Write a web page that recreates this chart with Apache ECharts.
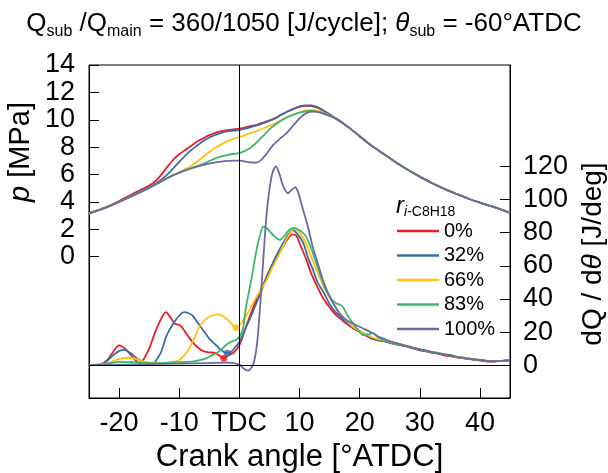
<!DOCTYPE html>
<html><head><meta charset="utf-8">
<script src="https://cdn.jsdelivr.net/npm/echarts@6/dist/echarts.min.js"></script>
<style>html,body{margin:0;padding:0;background:#fff}#c{width:608px;height:473px}</style>
</head><body><div id="c"></div>
<script>
// ---------- data ----------
const seriesNames = ['0%', '32%', '66%', '83%', '100%'];
const xTicks = [-20, -10, 0, 10, 20, 30, 40];
const pTicks = [0, 2, 4, 6, 8, 10, 12, 14];
const dqTicks = [0, 20, 40, 60, 80, 100, 120];

// pressure [crank angle, MPa]
const p0 = [[-25,3.17],[-23,3.47],[-21,3.85],[-19,4.3],[-17,4.75],[-15,5.2],[-14,5.5],[-13,5.98],[-12,6.55],[-11,7.08],[-10,7.48],[-9,7.8],[-8,8.1],[-7,8.42],[-6,8.65],[-5,8.88],[-4,9.05],[-3,9.17],[-2,9.25],[-1,9.3],[0,9.35],[1,9.45],[2,9.55],[3,9.65],[4,9.8],[5,9.95],[6,10.12],[7,10.38],[8,10.6],[9,10.8],[10,10.95],[11,11.02],[12,11.0],[13,10.88],[14,10.65],[16,10.1],[18,9.5],[20,8.8],[22,8.1],[24,7.5],[26,6.9],[28,6.35],[30,5.85],[32,5.38],[34,4.97],[36,4.6],[38,4.25],[40,3.95],[42,3.67],[45,3.2]];
const p32 = [[-25,3.17],[-23,3.46],[-21,3.82],[-19,4.24],[-17,4.66],[-15,5.08],[-14,5.32],[-13,5.62],[-12,6.0],[-11,6.45],[-10,6.93],[-9,7.38],[-8,7.78],[-7,8.13],[-6,8.45],[-5,8.7],[-4,8.9],[-3,9.05],[-2,9.15],[-1,9.2],[0,9.25],[1,9.35],[2,9.48],[3,9.6],[4,9.75],[5,9.92],[6,10.12],[7,10.37],[8,10.6],[9,10.8],[10,10.97],[11,11.05],[12,11.05],[13,10.92],[14,10.68],[16,10.12],[18,9.5],[20,8.8],[22,8.1],[24,7.5],[26,6.9],[28,6.35],[30,5.85],[32,5.38],[34,4.97],[36,4.6],[38,4.25],[40,3.95],[42,3.67],[45,3.2]];
const p66 = [[-25,3.17],[-23,3.45],[-21,3.8],[-19,4.2],[-17,4.6],[-15,5.02],[-13,5.5],[-11,5.97],[-10,6.15],[-9,6.38],[-8,6.65],[-7,6.95],[-6,7.3],[-5,7.65],[-4,7.95],[-3,8.2],[-2,8.42],[-1,8.6],[0,8.74],[1,8.9],[2,9.05],[3,9.2],[4,9.38],[5,9.55],[6,9.75],[7,9.98],[8,10.2],[9,10.38],[10,10.55],[11,10.68],[12,10.72],[13,10.65],[14,10.5],[16,10.1],[18,9.5],[20,8.8],[22,8.1],[24,7.5],[26,6.9],[28,6.35],[30,5.85],[32,5.38],[34,4.97],[36,4.6],[38,4.25],[40,3.95],[42,3.67],[45,3.2]];
const p83 = [[-25,3.17],[-23,3.45],[-21,3.8],[-19,4.2],[-17,4.6],[-15,5.02],[-13,5.5],[-11,5.95],[-9,6.32],[-8,6.47],[-7,6.62],[-6,6.78],[-5,6.98],[-4,7.18],[-3,7.32],[-2,7.42],[-1,7.5],[0,7.57],[1,7.75],[2,8.0],[3,8.4],[4,8.85],[5,9.3],[6,9.65],[7,9.95],[8,10.2],[9,10.38],[10,10.52],[11,10.62],[12,10.65],[13,10.58],[14,10.45],[16,10.1],[18,9.5],[20,8.8],[22,8.1],[24,7.5],[26,6.9],[28,6.35],[30,5.85],[32,5.38],[34,4.97],[36,4.6],[38,4.25],[40,3.95],[42,3.67],[45,3.2]];
const p100 = [[-25,3.17],[-23,3.45],[-21,3.8],[-19,4.2],[-17,4.6],[-15,5.02],[-13,5.5],[-11,5.95],[-9,6.3],[-7,6.58],[-5,6.8],[-3,6.95],[-1,7.02],[0,7.02],[1,6.95],[2,6.88],[2.8,6.87],[3.6,7.05],[4.4,7.45],[5.5,8.1],[6.7,8.6],[7.8,9.0],[9,9.6],[10,10.1],[11,10.45],[12,10.6],[13,10.58],[14,10.45],[16,10.1],[18,9.5],[20,8.8],[22,8.1],[24,7.5],[26,6.9],[28,6.35],[30,5.85],[32,5.38],[34,4.97],[36,4.6],[38,4.25],[40,3.95],[42,3.67],[45,3.2]];

// heat release rate [crank angle, J/deg]
const dq0 = [[-25,0],[-24,0],[-23,0.5],[-22,3],[-21,8],[-20,12],[-19,10],[-18,6],[-17,2],[-16.5,1.2],[-16,3],[-15,10],[-14,20],[-13,28],[-12.2,32],[-11.5,29],[-10.7,25],[-9.8,24],[-9,20],[-8,15],[-7,11],[-6,8.5],[-5,7.8],[-4,7.3],[-3.2,5.5],[-2.6,4.2],[-2,5.5],[-1,7.5],[0,12],[1,22],[2,32],[3,41],[4,49],[5,57],[6,64],[7,70],[8,76],[8.8,79],[9.5,78],[10.2,72],[11,65],[12,55],[13,47],[14,40],[15,35],[16,30.5],[17,27.5],[18,24.5],[19,22],[20,20],[21,18],[22,16],[23,15],[24,14.5],[25,13.5],[26,12.5],[27,12],[28,11],[29,10],[30,9],[31,8.3],[32,7.5],[33,7],[34,6],[35,5.5],[36,4.8],[37,4.3],[38,3.8],[39,3.3],[40,2.8],[41,2.3],[42,2.2],[43,2.5],[44,2.8],[45,3]];
const dq32 = [[-25,0],[-24,0],[-23,0.5],[-22,2.5],[-21,6],[-20,8.5],[-19.2,9.2],[-18,7],[-17,4],[-16,2],[-15,1],[-14.4,0.8],[-14,2],[-13,8],[-12.2,17],[-11,25],[-10,30],[-9.2,32],[-8.5,31.5],[-7.8,30],[-7,26],[-6,21],[-5,16],[-4,12.5],[-3.3,10],[-2.6,8],[-2,7.2],[-1.4,8],[-0.6,11.2],[0,14],[1,22],[2,30],[3,39],[4,48],[5,57],[6,65],[7,72],[8,78],[8.9,81.5],[9.7,79],[10.6,74],[11.5,64],[12.2,58],[13,50],[14,44],[15,37],[16,32],[17,28.5],[18,25.5],[19,22.5],[20,20.5],[21,18.5],[22,16.5],[23,15.5],[24,14.5],[25,13.8],[26,12.8],[27,12],[28,11.2],[29,10.2],[30,9.3],[31,8.5],[32,7.8],[33,7.2],[34,6.3],[35,5.8],[36,5],[37,4.5],[38,4],[39,3.4],[40,3],[41,2.5],[42,2.3],[43,2.4],[44,2.6],[45,2.8]];
const dq66 = [[-25,0],[-24,0],[-23,0.3],[-22,1],[-21,2.5],[-20,3.8],[-18.3,4.5],[-17,3.5],[-15.6,2],[-14,1.5],[-12.2,1.3],[-11,2],[-10,3],[-9.4,5],[-8.5,9],[-7.5,16],[-6.7,23],[-5.5,28],[-4.5,30],[-3.4,30.7],[-2.5,29],[-1.9,27.3],[-1.2,24.5],[-0.55,22.6],[0,24],[0.3,25.3],[1,29],[2.2,37],[3.3,44],[4.4,50.4],[5.5,59],[6.7,67.5],[8,77],[9.2,82.6],[10,80],[11.1,73.6],[12,65],[13.3,53.4],[14.5,44],[15.6,37.4],[17,30],[18.9,23.2],[20,20.5],[21,19],[22,17],[23,15.8],[24,15],[25,14],[26,13],[27,12.4],[28,11.5],[29,10.5],[30,9.5],[31,8.8],[32,8],[33,7.5],[34,6.8],[35,6],[36,5.2],[37,4.8],[38,4.2],[39,3.7],[40,3.2],[41,2.8],[42,2.5],[43,2.4],[44,2.6],[45,2.8]];
const dq83 = [[-25,0],[-24,0.3],[-22,1],[-20,2],[-18,1.8],[-16,1.5],[-14,1.3],[-12,1.5],[-10,1.8],[-8,2.2],[-6,3.5],[-4.4,6.2],[-3.3,8.5],[-2.2,12.2],[-1.5,14],[-0.6,15.2],[0,17],[0.6,22],[1.1,35],[2,52],[2.8,68.5],[3.4,78],[4,83.6],[4.6,82.5],[5.6,78.6],[6.7,75.6],[7.5,78],[8.3,81.6],[9.2,82.8],[9.7,82],[10.4,80.5],[11.1,77.6],[12,70],[12.8,61.5],[13.6,53],[14.4,45.4],[15.3,40],[16.1,37.4],[16.7,36.5],[17.2,35.3],[18,30],[18.9,25.3],[19.8,21],[20.6,18.2],[21.4,18.5],[22.2,19.3],[23,17],[24,15],[25,14],[26,12.8],[27,12.5],[28,11],[29,10.5],[30,9.5],[31,9],[32,7.8],[33,7.5],[34,6.5],[35,6.2],[36,5],[37,4.5],[38,4.2],[39,3.5],[40,3.2],[41,2.6],[42,2.4],[43,2.5],[44,2.7],[45,2.9]];
const dq100 = [[-25,0],[-20,0.3],[-15,0.6],[-10,1],[-5,1.3],[-2,1.5],[0,0.3],[0.7,-2],[1.4,-3.3],[2,-1.5],[2.5,3],[3,15],[3.5,38],[4,65],[4.5,90],[5,106],[5.5,116],[6.1,120],[6.7,115],[7.3,108],[8.1,103.8],[8.7,106],[9.3,107.4],[9.8,104],[10.5,95],[11.4,83.6],[12.2,71.5],[13,62],[13.9,51.4],[14.7,44],[15.6,37.4],[16.7,31],[17.8,27.3],[18.9,25],[20,23.2],[21,21.5],[22.2,19.3],[23,17.5],[24,16],[25,14.5],[26,13.5],[27,12.3],[28,11.5],[29,10.5],[30,9.6],[31,8.8],[32,8],[33,7.2],[34,6.5],[35,6],[36,5.2],[37,4.6],[38,4],[39,3.6],[40,3.2],[41,2.8],[42,2.4],[43,2.5],[44,2.8],[45,3]];

// end-of-first-combustion markers [crank angle, J/deg]
const dot0 = [[-2.6, 4.2]];
const dot32 = [[-2.0, 7.2]];
const dot66 = [[-0.55, 22.6]];

// ---------- chart ----------
const FONT = "'Liberation Sans', Arial, Helvetica, sans-serif";
const colors = ['#ec1c24', '#3a6ea5', '#ffc20e', '#3cb868', '#6b6ba3'];
const pData = [p0, p32, p66, p83, p100];
const dqData = [dq0, dq32, dq66, dq83, dq100];
const dots = [dot0, dot32, dot66];

const series = [];
// reference lines (TDC and zero heat release)
series.push({
  name: 'ref', type: 'line', xAxisIndex: 0, yAxisIndex: 1, data: [], z: 2,
  markLine: {
    silent: true, symbol: 'none', animation: false,
    label: { show: false },
    lineStyle: { color: '#000', width: 1, type: 'solid' },
    data: [{ xAxis: 0 }, { yAxis: 0 }]
  }
});
seriesNames.forEach((n, i) => {
  series.push({
    name: n, type: 'line', xAxisIndex: 0, yAxisIndex: 0, data: pData[i],
    symbol: 'none', smooth: 0.3, z: 3,
    lineStyle: { color: colors[i], width: 1.8 }, itemStyle: { color: colors[i] }
  });
});
seriesNames.forEach((n, i) => {
  series.push({
    name: n, type: 'line', xAxisIndex: 0, yAxisIndex: 1, data: dqData[i],
    symbol: 'none', smooth: 0.3, z: 3,
    lineStyle: { color: colors[i], width: 1.8 }, itemStyle: { color: colors[i] }
  });
});
dots.forEach((d, i) => {
  series.push({
    name: 'dot' + i, type: 'scatter', xAxisIndex: 0, yAxisIndex: 1, data: d,
    symbol: 'circle', symbolSize: 7, z: 4, itemStyle: { color: colors[i] }
  });
});

const axisCommon = {
  axisLine: { show: true, onZero: false, lineStyle: { color: '#000', width: 1 } },
  splitLine: { show: false },
};

const option = {
  animation: false,
  backgroundColor: '#fff',
  title: {
    left: 'center', top: 8, padding: 0,
    text: '{n|Q}{s|sub}{n| /Q}{s|main}{n| = 360/1050 [J/cycle]; }{t|θ}{s|sub}{n| = -60°ATDC}',
    textStyle: {
      fontFamily: FONT, fontWeight: 'normal',
      rich: {
        n: { fontSize: 26, lineHeight: 32, color: '#000', fontWeight: 'normal', fontFamily: FONT },
        t: { fontSize: 26, lineHeight: 32, color: '#000', fontWeight: 'normal', fontStyle: 'italic', fontFamily: FONT },
        s: { fontSize: 16, lineHeight: 20, color: '#000', fontWeight: 'normal', verticalAlign: 'bottom', fontFamily: FONT }
      }
    }
  },
  grid: {
    left: 89, right: 98, top: 65, bottom: 75, containLabel: false, outerBoundsMode: 'none',
    show: true, borderColor: '#000', borderWidth: 1, backgroundColor: 'transparent'
  },
  legend: {
    data: seriesNames, orient: 'vertical', left: 397, top: 221, padding: 0,
    icon: 'rect', itemWidth: 42, itemHeight: 2.5, itemGap: 4.5, selectedMode: false,
    textStyle: { fontSize: 20, color: '#000', fontFamily: FONT }
  },
  xAxis: [{
    type: 'value', min: -25, max: 45, ...axisCommon,
    axisTick: { show: true, inside: true, length: 10, customValues: xTicks, lineStyle: { color: '#000' } },
    axisLabel: { customValues: xTicks, formatter: v => (v === 0 ? 'TDC' : String(v)), fontSize: 27, color: '#000', margin: 12, fontFamily: FONT },
    name: 'Crank angle [°ATDC]', nameLocation: 'middle', nameGap: 38,
    nameTextStyle: { fontSize: 31, color: '#000', fontFamily: FONT }
  }],
  yAxis: [{
    type: 'value', position: 'left', min: -10.32, max: 14, ...axisCommon,
    axisTick: { show: true, inside: true, length: 10, customValues: pTicks, lineStyle: { color: '#000' } },
    axisLabel: { customValues: pTicks, fontSize: 27, color: '#000', margin: 14, fontFamily: FONT }
  }, {
    type: 'value', position: 'right', min: -19.8, max: 181.2, ...axisCommon,
    axisTick: { show: true, inside: true, length: 10, customValues: dqTicks, lineStyle: { color: '#000' } },
    axisLabel: { customValues: dqTicks, fontSize: 27, color: '#000', margin: 13, fontFamily: FONT }
  }],
  graphic: [
    {
      type: 'text', x: 21, y: 152, rotation: Math.PI / 2,
      style: {
        text: '{i|p}{n| [MPa]}', align: 'center', verticalAlign: 'middle',
        rich: {
          i: { fontSize: 29, fontStyle: 'italic', fill: '#000', fontFamily: FONT },
          n: { fontSize: 29, fill: '#000', fontFamily: FONT }
        }
      }
    },
    {
      type: 'text', x: 593, y: 254, rotation: Math.PI / 2,
      style: {
        text: '{n|dQ / d}{i|θ}{n| [J/deg]}', align: 'center', verticalAlign: 'middle',
        rich: {
          i: { fontSize: 28, fontStyle: 'italic', fill: '#000', fontFamily: FONT },
          n: { fontSize: 28, fill: '#000', fontFamily: FONT }
        }
      }
    },
    {
      type: 'text', left: 396, top: 194,
      style: {
        text: '{r|r}{s|i}{t|-C8H18}',
        rich: {
          r: { fontSize: 24, lineHeight: 26, fontStyle: 'italic', fill: '#000', fontFamily: FONT },
          s: { fontSize: 14, lineHeight: 20, fontStyle: 'italic', verticalAlign: 'bottom', fill: '#000', fontFamily: FONT },
          t: { fontSize: 14, lineHeight: 20, verticalAlign: 'bottom', fill: '#000', fontFamily: FONT }
        }
      }
    }
  ],
  series: series
};

const chart = echarts.init(document.getElementById('c'), null, { renderer: 'canvas' });
chart.setOption(option);
</script>
</body></html>
